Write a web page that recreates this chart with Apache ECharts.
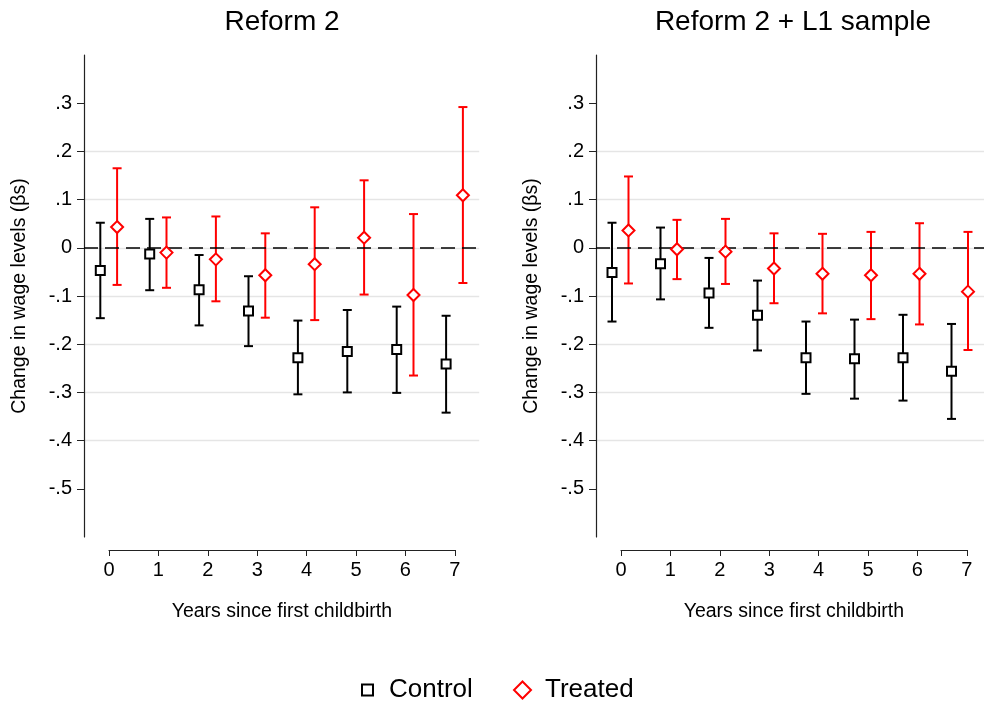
<!DOCTYPE html>
<html><head><meta charset="utf-8">
<script src="https://cdn.jsdelivr.net/npm/echarts@6/dist/echarts.min.js"></script>
<style>html,body{margin:0;padding:0;background:#fff}#c{width:984px;height:704px}</style>
</head><body><div id="c"></div>
<script>
const years = [0, 1, 2, 3, 4, 5, 6, 7];
const yTicks = [-0.5, -0.4, -0.3, -0.2, -0.1, 0, 0.1, 0.2, 0.3];
const panelTitles = ['Reform 2', 'Reform 2 + L1 sample'];
const xTitle = 'Years since first childbirth';
const yTitle = 'Change in wage levels (βs)';
const seriesNames = ['Control', 'Treated'];

// Panel 1: Reform 2
const p1ControlEst = [-0.047, -0.013, -0.087, -0.131, -0.228, -0.215, -0.211, -0.241];
const p1ControlLo  = [-0.146, -0.088, -0.161, -0.204, -0.304, -0.300, -0.301, -0.342];
const p1ControlHi  = [0.052, 0.060, -0.015, -0.059, -0.151, -0.129, -0.122, -0.141];
const p1TreatedEst = [0.043, -0.010, -0.024, -0.057, -0.034, 0.021, -0.098, 0.109];
const p1TreatedLo  = [-0.077, -0.083, -0.111, -0.145, -0.150, -0.097, -0.265, -0.073];
const p1TreatedHi  = [0.165, 0.063, 0.065, 0.030, 0.084, 0.140, 0.070, 0.292];

// Panel 2: Reform 2 + L1 sample
const p2ControlEst = [-0.051, -0.033, -0.094, -0.140, -0.228, -0.230, -0.228, -0.256];
const p2ControlLo  = [-0.153, -0.107, -0.166, -0.213, -0.303, -0.313, -0.317, -0.355];
const p2ControlHi  = [0.052, 0.042, -0.021, -0.068, -0.153, -0.149, -0.139, -0.158];
const p2TreatedEst = [0.036, -0.003, -0.008, -0.043, -0.054, -0.057, -0.054, -0.091];
const p2TreatedLo  = [-0.074, -0.065, -0.075, -0.115, -0.136, -0.148, -0.159, -0.212];
const p2TreatedHi  = [0.148, 0.058, 0.060, 0.030, 0.029, 0.033, 0.051, 0.033];

const FONT = '"Liberation Sans", Arial, Helvetica, sans-serif';
const RED = '#ff0000';
const OFF = 0.17;

const panels = [
  {c: [p1ControlEst, p1ControlLo, p1ControlHi], t: [p1TreatedEst, p1TreatedLo, p1TreatedHi], left: 84, axLeft: 109},
  {c: [p2ControlEst, p2ControlLo, p2ControlHi], t: [p2TreatedEst, p2TreatedLo, p2TreatedHi], left: 596, axLeft: 621}
];
const UNIT = 49.4;

function fmtY(v) {
  const n = Math.round(v * 10);
  if (n === 0) return '0';
  return (n < 0 ? '-' : '') + '.' + Math.abs(n);
}

function errBar(color, width) {
  return function (params, api) {
    const x = api.value(0), lo = api.value(1), hi = api.value(2);
    const a = api.coord([x, lo]), b = api.coord([x, hi]);
    const hw = 4.5;
    const st = {stroke: color, lineWidth: width};
    return {type: 'group', children: [
      {type: 'line', shape: {x1: a[0], y1: a[1], x2: b[0], y2: b[1]}, style: st},
      {type: 'line', shape: {x1: a[0] - hw, y1: a[1], x2: a[0] + hw, y2: a[1]}, style: st},
      {type: 'line', shape: {x1: b[0] - hw, y1: b[1], x2: b[0] + hw, y2: b[1]}, style: st}
    ]};
  };
}

const grid = [], xAxis = [], yAxis = [], series = [];
panels.forEach((p, i) => {
  const gPlot = grid.length;
  grid.push({left: p.left, top: 55, width: UNIT * 8, height: 482});
  const gAx = grid.length;
  grid.push({left: p.axLeft, top: 500, width: UNIT * 7, height: 50});
  xAxis.push({gridIndex: gPlot, type: 'value', min: -0.5, max: 7.5, show: false});
  yAxis.push({
    gridIndex: gPlot, type: 'value', min: -0.6, max: 0.4, interval: 0.1,
    name: yTitle, nameLocation: 'middle', nameGap: 54,
    nameTextStyle: {fontSize: 19.5, color: '#000', fontFamily: FONT},
    axisLine: {show: true, onZero: false, lineStyle: {color: '#222', width: 1.2}},
    axisTick: {show: true, length: 7, customValues: yTicks, lineStyle: {color: '#222'}},
    axisLabel: {customValues: yTicks, formatter: fmtY, fontSize: 20, color: '#000', margin: 12, fontFamily: FONT},
    splitLine: {show: true, showMinLine: false, showMaxLine: false, lineStyle: {color: '#e5e5e5', width: 1.3}}
  });
  xAxis.push({
    gridIndex: gAx, type: 'value', min: 0, max: 7, interval: 1, position: 'bottom',
    name: xTitle, nameLocation: 'middle', nameGap: 52,
    nameTextStyle: {fontSize: 19.5, color: '#000', fontFamily: FONT},
    axisLine: {show: true, onZero: false, lineStyle: {color: '#222', width: 1.2}},
    axisTick: {show: true, length: 6, lineStyle: {color: '#222'}},
    axisLabel: {fontSize: 20, color: '#000', margin: 10, fontFamily: FONT},
    splitLine: {show: false}
  });
  yAxis.push({gridIndex: gAx, type: 'value', show: false, min: 0, max: 1});

  const xi = gPlot === 0 ? 0 : 2; // axis indices
  const cx = years.map(y => y - OFF), tx = years.map(y => y + OFF);
  series.push({
    name: 'ci-c' + i, type: 'custom', xAxisIndex: xi, yAxisIndex: xi,
    renderItem: errBar('#000', 2), encode: {x: 0, y: [1, 2]}, z: 2,
    data: years.map((_, k) => [cx[k], p.c[1][k], p.c[2][k]])
  });
  series.push({
    name: 'ci-t' + i, type: 'custom', xAxisIndex: xi, yAxisIndex: xi,
    renderItem: errBar(RED, 2), encode: {x: 0, y: [1, 2]}, z: 2,
    data: years.map((_, k) => [tx[k], p.t[1][k], p.t[2][k]])
  });
  series.push({
    name: 'Control', type: 'scatter', xAxisIndex: xi, yAxisIndex: xi,
    symbol: 'rect', symbolSize: 9, z: 5,
    itemStyle: {color: '#fff', borderColor: '#000', borderWidth: 2, opacity: 1},
    data: years.map((_, k) => [cx[k], p.c[0][k]]),
    markLine: {
      silent: true, symbol: ['none', 'none'], label: {show: false},
      lineStyle: {color: '#000', type: [14, 7], width: 1.6},
      data: [{yAxis: 0}]
    }
  });
  series.push({
    name: 'Treated', type: 'scatter', xAxisIndex: xi, yAxisIndex: xi,
    symbol: 'diamond', symbolSize: 12, z: 5,
    itemStyle: {color: '#fff', borderColor: RED, borderWidth: 2, opacity: 1},
    data: years.map((_, k) => [tx[k], p.t[0][k]])
  });
});

const chart = echarts.init(document.getElementById('c'), null, {renderer: 'canvas'});
chart.setOption({
  animation: false,
  backgroundColor: '#fff',
  textStyle: {fontFamily: FONT},
  grid, xAxis, yAxis, series,
  graphic: [
    {type: 'text', x: 282, y: 22, style: {text: panelTitles[0], fontSize: 28, fontFamily: FONT, fill: '#000', align: 'center', verticalAlign: 'middle'}},
    {type: 'text', x: 793, y: 22, style: {text: panelTitles[1], fontSize: 28, fontFamily: FONT, fill: '#000', align: 'center', verticalAlign: 'middle'}}
  ],
  legend: [
    {data: [{name: seriesNames[0], icon: 'rect', itemStyle: {color: '#fff', borderColor: '#000', borderWidth: 2}}],
     left: 356, top: 672, itemWidth: 11, itemHeight: 11, selectedMode: false,
     textStyle: {fontSize: 26, color: '#000', fontFamily: FONT, padding: [0, 0, 0, 11]}},
    {data: [{name: seriesNames[1], icon: 'diamond', itemStyle: {color: '#fff', borderColor: RED, borderWidth: 2}}],
     left: 508, top: 672, itemWidth: 17, itemHeight: 17, selectedMode: false,
     textStyle: {fontSize: 26, color: '#000', fontFamily: FONT, padding: [0, 0, 0, 9]}}
  ]
});
</script>
</body></html>
